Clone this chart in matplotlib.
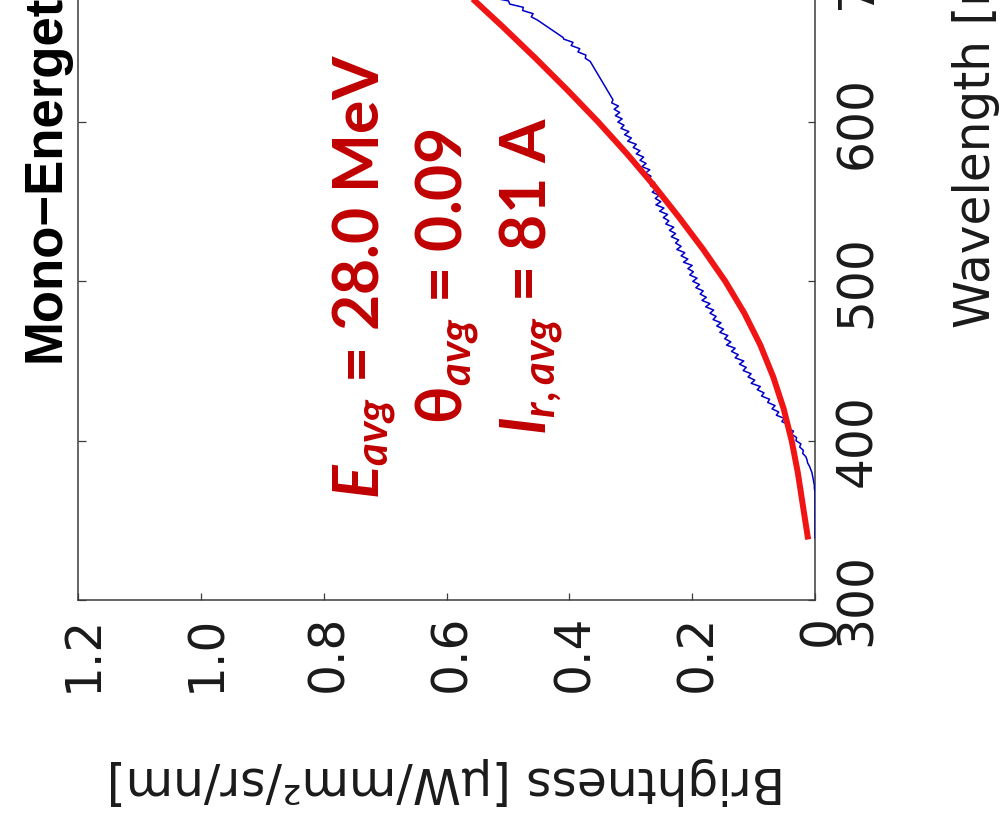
import matplotlib
matplotlib.use("Agg")
import matplotlib.pyplot as plt
from matplotlib.transforms import ScaledTranslation

# measured spectrum (blue trace)
wavelength_meas = [
    339, 367,
    368, 370, 372, 374, 376, 378, 380, 382, 384, 386, 388,
    390, 392, 394, 396, 398, 400, 402, 404, 406, 408,
    410, 412, 414, 416, 418, 420, 422, 424, 426, 428,
    430, 432, 434, 436, 438, 440, 442, 444, 446, 448,
    450, 452, 454, 456, 458, 460, 462, 464, 466, 468,
    470, 472, 474, 476, 478, 480, 482, 484, 486, 488,
    490, 492, 494, 496, 498, 500, 502, 504, 506, 508,
    510, 512, 514, 516, 518, 520, 522, 524, 526, 528,
    530, 532, 534, 536, 538, 540, 542, 544, 546, 548,
    550, 552, 554, 556, 558, 560, 562, 564, 566, 568,
    570, 572, 574, 576, 578, 580, 582, 584, 586, 588,
    590, 592, 594, 596, 598, 600, 602, 604, 606, 608,
    610, 612, 614,
    638, 640, 642, 644, 646, 648, 650, 652, 653,
    664, 666, 668, 670, 672, 674, 676, 678, 680, 682, 684, 686, 688, 690,
]
brightness_meas = [
    0.000, 0.000,
    0.000, 0.001, 0.001, 0.002, 0.003, 0.004, 0.005, 0.007, 0.009, 0.012, 0.013,
    0.015, 0.020, 0.019, 0.025, 0.023, 0.031, 0.030, 0.038, 0.035, 0.046,
    0.043, 0.054, 0.050, 0.063, 0.059, 0.070, 0.065, 0.077, 0.074, 0.087,
    0.083, 0.094, 0.089, 0.104, 0.098, 0.109, 0.104, 0.117, 0.112, 0.123,
    0.116, 0.130, 0.125, 0.136, 0.130, 0.144, 0.137, 0.147, 0.142, 0.155,
    0.149, 0.160, 0.153, 0.166, 0.161, 0.171, 0.165, 0.178, 0.171, 0.184,
    0.177, 0.187, 0.182, 0.194, 0.188, 0.199, 0.192, 0.204, 0.198, 0.207,
    0.200, 0.214, 0.207, 0.218, 0.212, 0.225, 0.218, 0.227, 0.222, 0.234,
    0.227, 0.237, 0.230, 0.243, 0.238, 0.247, 0.240, 0.253, 0.246, 0.259,
    0.251, 0.260, 0.254, 0.265, 0.258, 0.268, 0.261, 0.273, 0.267, 0.276,
    0.269, 0.282, 0.275, 0.285, 0.279, 0.291, 0.285, 0.296, 0.291, 0.305,
    0.299, 0.310, 0.303, 0.316, 0.311, 0.321, 0.314, 0.325, 0.318, 0.327,
    0.320, 0.331, 0.329,
    0.366, 0.374, 0.373, 0.386, 0.383, 0.397, 0.394, 0.409, 0.410,
    0.452, 0.462, 0.459, 0.476, 0.475, 0.497, 0.499, 0.526, 0.527, 0.546, 0.545, 0.562, 0.562, 0.578,
]

# fitted mono-energetic curve (red)
wavelength_fit = [338, 340, 360, 380, 400, 420, 440, 460, 480, 500,
                  520, 540, 560, 580, 600, 620, 640, 660, 680, 700]
brightness_fit = [0.011, 0.012, 0.020, 0.028, 0.038, 0.051, 0.068, 0.089, 0.115, 0.146,
                  0.182, 0.221, 0.262, 0.306, 0.353, 0.403, 0.455, 0.509, 0.565, 0.623]

brightness_ticks = [0, 0.2, 0.4, 0.6, 0.8, 1.0, 1.2]
brightness_labels = ["0", "0.2", "0.4", "0.6", "0.8", "1.0", "1.2"]
wavelength_ticks = [300, 400, 500, 600, 700, 800, 900]
wavelength_labels = ["300", "400", "500", "600", "700", "800", "900"]

fit_lines = [
    r"$E_{avg}$ = 28.0 MeV",
    r"$\mathbf{\theta}_{avg}$ = 0.09",
    r"$I_{r,avg}$ = 81 A",
]

plt.rcParams["font.family"] = "DejaVu Sans"
plt.rcParams["mathtext.fontset"] = "custom"
plt.rcParams["mathtext.rm"] = "Lato:bold"
plt.rcParams["mathtext.bf"] = "Lato:bold"
plt.rcParams["mathtext.it"] = "Lato:italic:bold"

W, H = 1005, 834
fig = plt.figure(figsize=(W / 100, H / 100), dpi=100)
fig.patch.set_facecolor("white")


def px(x, y):
    return x / W, 1 - y / H


# plot is drawn turned on its side: brightness runs right->left, wavelength upward
ax = fig.add_axes([78 / W, 1 - 600 / H, 737 / W, 600 * 1.5933 / H])
ax.plot(brightness_meas, wavelength_meas, color="#0000c8", lw=1.1, zorder=2.6)
ax.plot(brightness_fit, wavelength_fit, color="#f01414", lw=4.3,
        solid_capstyle="butt", zorder=3)

ax.set_xlim(1.2, 0)
ax.set_ylim(300, 900)
ax.set_xticks(brightness_ticks)
ax.set_xticklabels(brightness_labels)
ax.set_yticks(wavelength_ticks)
ax.set_yticklabels(wavelength_labels)

for s in ax.spines.values():
    s.set_color("#3c3c3c")
    s.set_linewidth(1.1)
ax.tick_params(direction="in", length=5.4, width=0.9, color="#3c3c3c",
               top=True, right=True, left=True, bottom=True,
               labelleft=False, labelright=True, labelcolor="#1a1a1a",
               labelsize=35)
ax.tick_params(axis="x", pad=10.5, labelrotation=90)
ax.tick_params(axis="y", pad=13, labelrotation=90)

shift = ScaledTranslation(5 / 100, 0, fig.dpi_scale_trans)
for lbl in ax.get_xticklabels():
    lbl.set_transform(lbl.get_transform() + shift)
for lbl in ax.get_yticklabels():
    lbl.set_verticalalignment("center")

# axis titles
fig.text(*px(60, 362), "Mono\u2212Energetic", rotation=90, rotation_mode="anchor",
         ha="left", va="baseline", fontsize=38, fontfamily="Liberation Sans",
         fontweight="bold", color="black")
fig.text(*px(990, 328), "Wavelength [nm]", rotation=90, rotation_mode="anchor",
         ha="left", va="baseline", fontsize=35, color="#1a1a1a")
fig.text(*px(446, 767), "Brightness [\u03bcW/mm\u00b2/sr/nm]", rotation=180,
         rotation_mode="anchor", ha="center", va="baseline", fontsize=35,
         color="#1a1a1a")

# fit results
for xb, line in zip([380, 463, 547], fit_lines):
    fig.text(*px(xb, 276), line, rotation=90, rotation_mode="anchor",
             ha="center", va="baseline", fontsize=45, fontfamily="Lato",
             fontweight="bold", color="#c00000")

fig.savefig("out.png", dpi=100)
